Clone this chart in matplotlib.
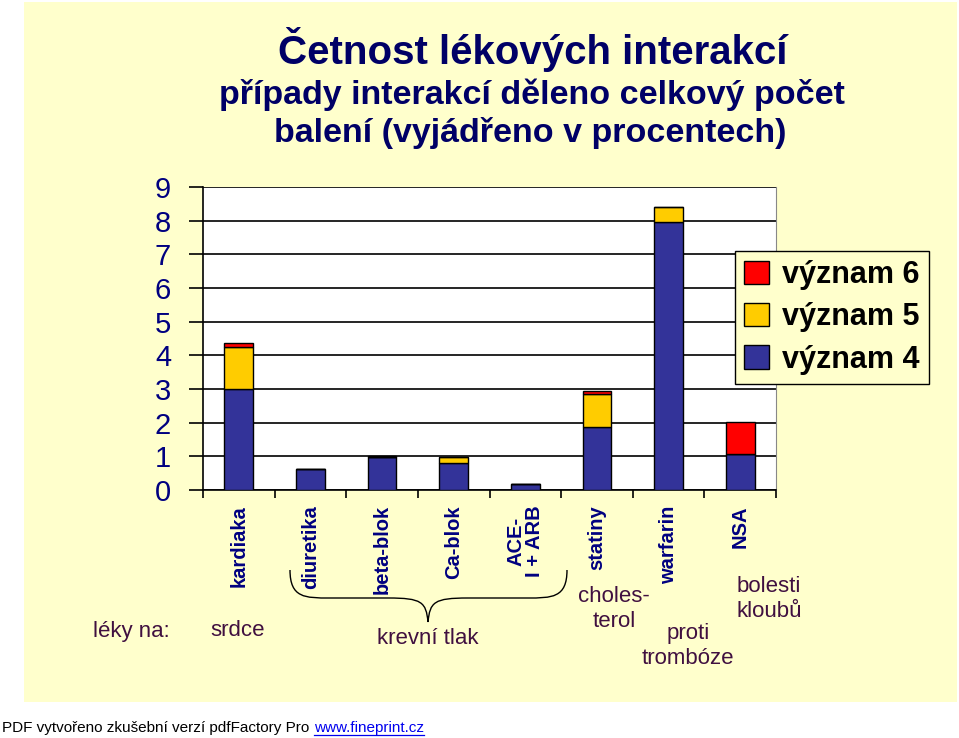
import matplotlib
matplotlib.use("Agg")
import matplotlib.pyplot as plt
import numpy as np
from matplotlib.patches import Rectangle, PathPatch
from matplotlib.path import Path

categories = ["kardiaka", "diuretika", "beta-blok", "Ca-blok", "ACE-\nI + ARB",
              "statiny", "warfarin", "NSA"]
vyznam4 = [3.0, 0.63, 0.98, 0.80, 0.17, 1.87, 7.97, 1.06]
vyznam5 = [1.25, 0.0, 0.0, 0.19, 0.0, 0.99, 0.44, 0.0]
vyznam6 = [0.12, 0.0, 0.02, 0.0, 0.0, 0.09, 0.0, 0.97]
series_names = ["význam 4", "význam 5", "význam 6"]
yticks = list(range(0, 10))

W, H = 959, 738
fig = plt.figure(figsize=(W / 100, H / 100), dpi=100)
fig.patch.set_facecolor("white")

def fx(x):
    return x / W

def fy(y):
    return 1 - y / H

# pale yellow slide background
fig.patches.append(Rectangle((fx(24), fy(702)), fx(957) - fx(24), fy(2) - fy(702),
                             transform=fig.transFigure, facecolor="#FFFFCC",
                             edgecolor="none", zorder=-5))

ax = fig.add_axes([fx(203), fy(490), fx(776) - fx(203), fy(187) - fy(490)])
ax.set_zorder(2)
ax.set_facecolor("white")

x = np.arange(len(categories))
b4 = np.array(vyznam4)
b5 = np.array(vyznam5)
b6 = np.array(vyznam6)
bw = 0.4
kw = dict(width=bw, edgecolor="black", linewidth=1.0, zorder=3)
ax.bar(x, b4, color="#333399", label=series_names[0], **kw)
ax.bar(x, b5, bottom=b4, color="#FFCC00", label=series_names[1], **kw)
ax.bar(x, b6, bottom=b4 + b5, color="#FF0000", label=series_names[2], **kw)

ax.set_xlim(-0.5, len(categories) - 0.5)
ax.set_ylim(0, 9)
ax.set_yticks(yticks)
ax.set_yticklabels([str(t) for t in yticks], fontsize=21, color="#000080",
                   fontfamily="Liberation Sans")
ax.yaxis.grid(True, color="black", linewidth=1.2, zorder=0)
ax.set_axisbelow(True)
ax.tick_params(axis="y", length=10, width=1.2, pad=13, direction="out")
ax.set_xticks(np.arange(len(categories) + 1) - 0.5)
ax.set_xticklabels([])
ax.tick_params(axis="x", length=6, width=1.2, direction="out")
for s in ["left", "bottom"]:
    ax.spines[s].set_linewidth(1.2)
ax.spines["top"].set_visible(False)
ax.spines["right"].set_color("#888888")

# category labels (rotated)
for i, c in enumerate(categories):
    ax.text(i, -0.45, c, rotation=90, ha="center", va="top",
            fontsize=14.5, fontweight="bold", color="#000080",
            fontfamily="Liberation Sans", linespacing=1.0,
            transform=ax.transData, clip_on=False, multialignment="center")

# legend
handles, labels = ax.get_legend_handles_labels()
leg = fig.legend(handles[::-1], labels[::-1], loc="upper left",
                 bbox_to_anchor=(fx(735), fy(251)),
                 prop=dict(family="Liberation Sans", weight="bold", size=22),
                 frameon=True, fancybox=False, edgecolor="black",
                 facecolor="#FFFFCC", framealpha=1.0,
                 handlelength=0.8, handleheight=0.8, handletextpad=0.45,
                 labelspacing=0.4, borderpad=0.3, borderaxespad=0)
leg.get_frame().set_linewidth(1.0)
leg.set_zorder(5)

# titles
navy = "#000066"
fig.text(fx(533), fy(50), "Četnost lékových interakcí", ha="center", va="center",
         fontsize=29, fontweight="bold", color=navy, fontfamily="Liberation Sans")
fig.text(fx(532), fy(95), "případy interakcí děleno celkový počet", ha="center",
         va="center", fontsize=24.5, fontweight="bold", color=navy,
         fontfamily="Liberation Sans")
fig.text(fx(530), fy(133), "balení (vyjádřeno v procentech)", ha="center",
         va="center", fontsize=24.5, fontweight="bold", color=navy,
         fontfamily="Liberation Sans")

# annotation texts
purple = "#401040"
tk = dict(fontsize=16, color=purple, fontfamily="Liberation Sans",
          ha="center", va="center", linespacing=1.25)
fig.text(fx(131), fy(631), "léky na:", **tk)
fig.text(fx(238), fy(631), "srdce", **tk)
fig.text(fx(428), fy(638), "krevní tlak", **tk)
fig.text(fx(614), fy(609), "choles-\nterol", **tk)
fig.text(fx(688), fy(646), "proti\ntrombóze", **tk)
fig.text(fx(769), fy(599), "bolesti\nkloubů", **tk)

# curly brace
x0, x1, xm = 290, 567, 428
yt, yb, yp = 570, 598, 622
verts = [
    (x0, yt), (x0, yb), (x0 + 15, yb), (x0 + 40, yb),
    (xm - 40, yb), (xm - 6, yb), (xm - 2, yb + 4), (xm, yp),
    (xm + 2, yb + 4), (xm + 6, yb), (xm + 40, yb),
    (x1 - 40, yb), (x1 - 15, yb), (x1, yb), (x1, yt),
]
codes = [Path.MOVETO, Path.CURVE4, Path.CURVE4, Path.CURVE4,
         Path.LINETO, Path.CURVE4, Path.CURVE4, Path.CURVE4,
         Path.CURVE4, Path.CURVE4, Path.CURVE4,
         Path.LINETO, Path.CURVE4, Path.CURVE4, Path.CURVE4]
verts_f = [(fx(a), fy(b)) for a, b in verts]
fig.patches.append(PathPatch(Path(verts_f, codes), transform=fig.transFigure,
                             facecolor="none", edgecolor="black", linewidth=1.0))

# footer
t1 = fig.text(fx(2), fy(728), "PDF vytvořeno zkušební verzí pdfFactory Pro",
              ha="left", va="center", fontsize=11, color="black",
              fontfamily="Liberation Sans")
fig.canvas.draw()
bb = t1.get_window_extent()
lx = bb.x1 / W + fx(5)
link = fig.text(lx, fy(728), "www.fineprint.cz", ha="left", va="center",
                fontsize=11, color="#0000EE", fontfamily="Liberation Sans")
fig.canvas.draw()
lb = link.get_window_extent()
fig.lines.append(plt.Line2D([lb.x0 / W, lb.x1 / W], [fy(735), fy(735)],
                            transform=fig.transFigure, color="#0000EE", linewidth=0.9))

fig.savefig("out.png", dpi=100)
